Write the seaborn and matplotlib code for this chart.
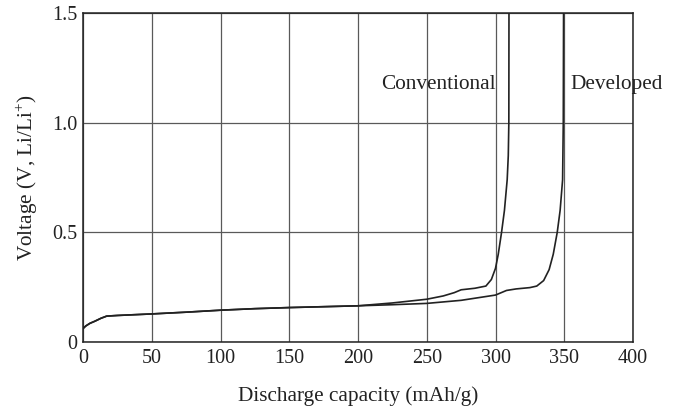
import matplotlib
matplotlib.use("Agg")
import matplotlib.pyplot as plt
import seaborn as sns
import pandas as pd

# Shared initial discharge region
common_x = [0, 2, 5, 8.7, 13, 17.2, 25, 50, 75, 100, 125, 150, 175, 200]
common_y = [0.061, 0.073, 0.085, 0.095, 0.108, 0.118, 0.121, 0.128, 0.136, 0.145, 0.152, 0.157, 0.161, 0.165]

conv_x = common_x + [225, 250, 262, 270, 275, 285, 293, 297, 300, 302, 304.4, 306.5, 308.5, 309.3, 309.7, 309.8]
conv_y = common_y + [0.178, 0.195, 0.21, 0.225, 0.238, 0.245, 0.255, 0.285, 0.336, 0.4, 0.5, 0.6, 0.74, 0.85, 1.0, 1.5]

dev_x = common_x + [225, 250, 275, 300, 308, 315, 325, 330, 335, 339, 342, 344.9, 347, 348.8, 349.3, 349.5]
dev_y = common_y + [0.17, 0.176, 0.19, 0.214, 0.235, 0.242, 0.248, 0.255, 0.28, 0.33, 0.4, 0.5, 0.6, 0.74, 1.0, 1.5]

series_names = ["Conventional", "Developed"]
x_ticks = [0, 50, 100, 150, 200, 250, 300, 350, 400]
y_ticks = [0, 0.5, 1.0, 1.5]
y_tick_labels = ["0", "0.5", "1.0", "1.5"]

df = pd.concat([
    pd.DataFrame({"cap": conv_x, "v": conv_y, "s": series_names[0]}),
    pd.DataFrame({"cap": dev_x, "v": dev_y, "s": series_names[1]}),
])

sns.set_theme(style="white")
plt.rcParams["font.family"] = ["Liberation Serif", "DejaVu Serif"]
plt.rcParams["mathtext.fontset"] = "custom"
plt.rcParams["mathtext.rm"] = "Liberation Serif"

fig = plt.figure(figsize=(6.74, 4.11), dpi=100)
ax = fig.add_axes([83 / 674, (411 - 342) / 411, 550 / 674, 329 / 411])

sns.lineplot(data=df, x="cap", y="v", units="s", estimator=None, sort=False,
             color="#222222", lw=1.2, ax=ax)

ax.set_xlim(0, 400)
ax.set_ylim(0, 1.5)
ax.set_xticks(x_ticks)
ax.set_xticklabels([str(t) for t in x_ticks])
ax.set_yticks(y_ticks)
ax.set_yticklabels(y_tick_labels)
ax.grid(True, color="0.35", lw=0.9)
ax.set_axisbelow(True)
for sp in ax.spines.values():
    sp.set_color("#222222")
    sp.set_linewidth(1.1)
ax.tick_params(length=0, labelsize=14.5, colors="#222222", pad=4)
ax.tick_params(axis="x", pad=5)

ax.set_xlabel("Discharge capacity (mAh/g)", fontsize=15.3, color="#222222", labelpad=13)
ax.set_ylabel("Voltage (V, Li/Li$^{+}$)", fontsize=15.3, color="#222222", labelpad=9)

ax.text(217, 1.175, series_names[0], fontsize=15.3, va="center", ha="left", color="#222222")
ax.text(354.6, 1.175, series_names[1], fontsize=15.3, va="center", ha="left", color="#222222",
        clip_on=False)

fig.savefig("out.png", dpi=100)
